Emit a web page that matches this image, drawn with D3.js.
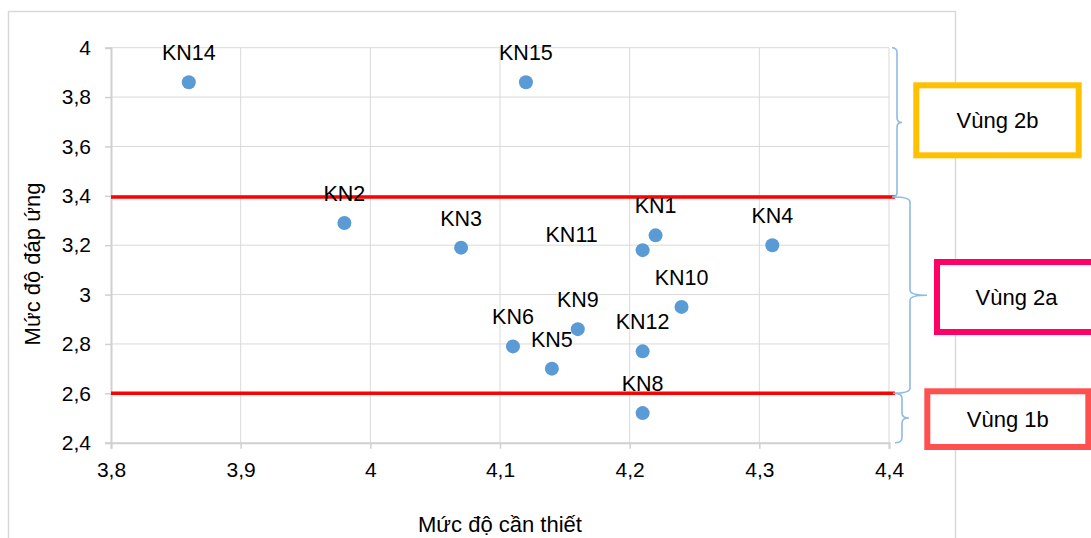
<!DOCTYPE html>
<html>
<head>
<meta charset="utf-8">
<script src="https://cdn.jsdelivr.net/npm/d3@7"></script>
<style>
  html, body { margin: 0; padding: 0; background: #fff; }
  svg { display: block; font-family: "Liberation Sans", Arial, sans-serif; }
</style>
</head>
<body>
<svg id="chart" width="1091" height="538"></svg>
<script>
// Skill items: "Mức độ cần thiết" (x) vs "Mức độ đáp ứng" (y)
const labels = ["KN1","KN2","KN3","KN4","KN5","KN6","KN8","KN9","KN10","KN11","KN12","KN14","KN15"];
const necessity = [4.22, 3.98, 4.07, 4.31, 4.14, 4.11, 4.21, 4.16, 4.24, 4.21, 4.21, 3.86, 4.12];
const response  = [3.24, 3.29, 3.19, 3.20, 2.70, 2.79, 2.52, 2.86, 2.95, 3.18, 2.77, 3.86, 3.86];

const xTicks = [3.8, 3.9, 4.0, 4.1, 4.2, 4.3, 4.4];
const yTicks = [2.4, 2.6, 2.8, 3.0, 3.2, 3.4, 3.6, 3.8, 4.0];

// Horizontal threshold lines separating the zones
const thresholds = [3.395, 2.6];

// Zones: name and the response range they cover
const zoneNames = ["Vùng 2b", "Vùng 2a", "Vùng 1b"];
const zoneRanges = [[3.395, 4.0], [2.6, 3.395], [2.4, 2.6]];

const xTitle = "Mức độ cần thiết";
const yTitle = "Mức độ đáp ứng";

const svg = d3.select("#chart");
const W = 1091, H = 538;
const plot = { left: 111, right: 889, top: 47.7, bottom: 442.7 };

const x = d3.scaleLinear().domain([3.8, 4.4]).range([plot.left, plot.right]);
const y = d3.scaleLinear().domain([2.4, 4.0]).range([plot.bottom, plot.top]);

const vi = d3.formatLocale({ decimal: ",", thousands: ".", grouping: [3], currency: ["", ""] });
const fmt = vi.format(".2~f");

// Chart frame
svg.append("path")
  .attr("d", `M8.5,${H + 2} V11.5 H955.5 V${H + 2}`)
  .attr("fill", "none").attr("stroke", "#d9d9d9").attr("stroke-width", 1.5);

// Gridlines
const grid = svg.append("g").attr("stroke", "#d9d9d9").attr("stroke-width", 1);
grid.selectAll(".gx").data(xTicks.slice(1)).join("line")
  .attr("x1", d => x(d)).attr("x2", d => x(d))
  .attr("y1", plot.top).attr("y2", plot.bottom);
grid.selectAll(".gy").data(yTicks.slice(1)).join("line")
  .attr("x1", plot.left).attr("x2", plot.right)
  .attr("y1", d => y(d)).attr("y2", d => y(d));

// Axes
const xAxis = d3.axisBottom(x).tickValues(xTicks).tickFormat(fmt).tickSize(6).tickPadding(13);
const yAxis = d3.axisLeft(y).tickValues(yTicks).tickFormat(fmt).tickSize(6).tickPadding(14);

const gx = svg.append("g").attr("transform", `translate(0,${plot.bottom})`).call(xAxis);
const gy = svg.append("g").attr("transform", `translate(${plot.left},0)`).call(yAxis);
[gx, gy].forEach(g => {
  g.select(".domain").attr("stroke", "#d0d0d0").attr("stroke-width", 2);
  g.selectAll(".tick line").attr("stroke", "#d0d0d0").attr("stroke-width", 1.5);
  g.selectAll(".tick text").attr("fill", "#000").style("font-size", "21px")
    .style("font-family", "'Liberation Sans', Arial, sans-serif");
});

// Threshold lines
svg.append("g").selectAll("line").data(thresholds).join("line")
  .attr("x1", plot.left).attr("x2", plot.right + 6)
  .attr("y1", d => y(d)).attr("y2", d => y(d))
  .attr("stroke", "#ff0000").attr("stroke-width", 3.5);

// Points and labels
const pts = labels.map((l, i) => ({ label: l, nx: necessity[i], ry: response[i] }));
const labelShift = { KN11: [-71, 14] };

svg.append("g").selectAll("circle").data(pts).join("circle")
  .attr("cx", d => x(d.nx)).attr("cy", d => y(d.ry)).attr("r", 7)
  .attr("fill", "#5b9bd5");

svg.append("g").selectAll("text").data(pts).join("text")
  .attr("x", d => x(d.nx) + (labelShift[d.label] ? labelShift[d.label][0] : 0))
  .attr("y", d => y(d.ry) - 22 + (labelShift[d.label] ? labelShift[d.label][1] : 0))
  .attr("text-anchor", "middle")
  .style("font-size", "21.5px").attr("fill", "#000")
  .text(d => d.label);

// Axis titles
svg.append("text").attr("x", (plot.left + plot.right) / 2).attr("y", 532)
  .attr("text-anchor", "middle").style("font-size", "22px").attr("fill", "#000")
  .text(xTitle);
svg.append("text").attr("transform", "translate(39.5,264) rotate(-90)")
  .attr("text-anchor", "middle").style("font-size", "22px").attr("fill", "#000")
  .text(yTitle);

// Curly braces marking each zone
function bracePath(x0, w, t, y1, y2) {
  const ym = (y1 + y2) / 2, r = Math.min(5, (y2 - y1) / 6);
  const xs = x0 + w;
  return `M${x0},${y1} Q${xs},${y1} ${xs},${y1 + r} L${xs},${ym - r} Q${xs},${ym} ${xs + t},${ym}`
       + ` Q${xs},${ym} ${xs},${ym + r} L${xs},${y2 - r} Q${xs},${y2} ${x0},${y2}`;
}
const braceGeom = [[892, 5, 5], [893, 17, 17], [895, 7, 7]];
svg.append("g").selectAll("path").data(zoneRanges).join("path")
  .attr("d", (d, i) => bracePath(braceGeom[i][0], braceGeom[i][1], braceGeom[i][2], y(d[1]), y(d[0])))
  .attr("fill", "none").attr("stroke", "#8fbbe3").attr("stroke-width", 1.6);

// Zone boxes
const boxGeom = [
  { x: 916.3, y: 85.3, w: 162.4, h: 70, color: "#ffc000" },
  { x: 937, y: 262, w: 159, h: 70, color: "#ff0066" },
  { x: 927.3, y: 391.3, w: 161, h: 55.7, color: "#ff5050" }
];
const boxes = svg.append("g").selectAll("g").data(zoneNames).join("g");
boxes.append("rect")
  .attr("x", (d, i) => boxGeom[i].x).attr("y", (d, i) => boxGeom[i].y)
  .attr("width", (d, i) => boxGeom[i].w).attr("height", (d, i) => boxGeom[i].h)
  .attr("fill", "#fff").attr("stroke", (d, i) => boxGeom[i].color).attr("stroke-width", 6);
boxes.append("text")
  .attr("x", (d, i) => boxGeom[i].x + boxGeom[i].w / 2)
  .attr("y", (d, i) => boxGeom[i].y + boxGeom[i].h / 2)
  .attr("dy", "0.35em").attr("text-anchor", "middle")
  .style("font-size", "22px").attr("fill", "#000")
  .text(d => d);
</script>
</body>
</html>
